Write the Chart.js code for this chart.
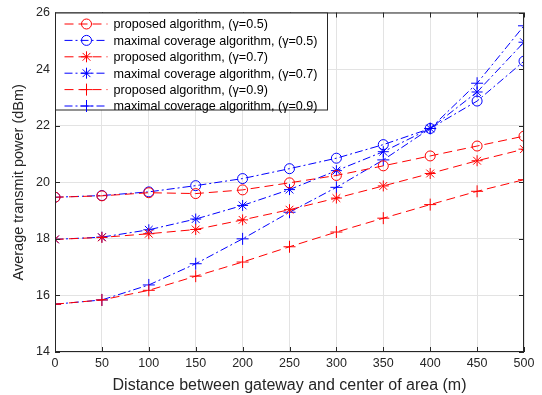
<!DOCTYPE html>
<html>
<head>
<meta charset="utf-8">
<script src="https://cdn.jsdelivr.net/npm/chart.js@4.4.1/dist/chart.umd.min.js"></script>
<style>
  body { margin: 0; background: #fff; }
  #wrap { width: 542px; height: 395px; }
</style>
</head>
<body>
<div id="wrap"><canvas id="power-plot"></canvas></div>
<script>
var distances = [0, 50, 100, 150, 200, 250, 300, 350, 400, 450, 500];
var yTicks = [14, 16, 18, 20, 22, 24, 26];

var proposed05 = [19.47, 19.52, 19.63, 19.6, 19.73, 19.98, 20.24, 20.58, 20.93, 21.28, 21.63];
var maximal05  = [19.47, 19.53, 19.66, 19.88, 20.13, 20.48, 20.85, 21.33, 21.9, 22.87, 24.28];
var proposed07 = [17.98, 18.05, 18.18, 18.33, 18.67, 19.03, 19.44, 19.87, 20.31, 20.76, 21.17];
var maximal07  = [17.98, 18.06, 18.32, 18.7, 19.18, 19.74, 20.41, 21.08, 21.9, 23.19, 24.95];
var proposed09 = [15.69, 15.84, 16.18, 16.68, 17.18, 17.72, 18.24, 18.73, 19.21, 19.68, 20.09];
var maximal09  = [15.69, 15.84, 16.37, 17.12, 18.0, 18.94, 19.82, 20.79, 21.9, 23.5, 25.53];

var red = "#ff0000";
var blue = "#0000ff";
var dashRed = [9, 5];
var dashBlue = [8, 3, 2, 3];
var fontFam = "'Liberation Sans', Arial, sans-serif";

function makeSet(label, data, color, dash, marker, size) {
  return {
    label: label,
    data: data.map(function (v, i) { return { x: distances[i], y: v }; }),
    borderColor: color,
    backgroundColor: "rgba(0,0,0,0)",
    borderWidth: 1,
    borderDash: dash,
    pointStyle: marker,
    pointRadius: size,
    pointBorderColor: color,
    pointBorderWidth: 1,
    pointBackgroundColor: "rgba(0,0,0,0)",
    tension: 0
  };
}

// box round the plot, ticks pointing inward on all four sides, legend inside
var matlabFrame = {
  id: "matlabFrame",
  afterDatasetsDraw: function (chart) {
    var ctx = chart.ctx, a = chart.chartArea;
    var xs = chart.scales.x, ys = chart.scales.y;
    ctx.save();
    ctx.strokeStyle = "#262626";
    ctx.lineWidth = 1;
    ctx.strokeRect(a.left + 0.5, a.top + 0.5, a.right - a.left - 1, a.bottom - a.top - 1);
    ctx.beginPath();
    distances.forEach(function (d) {
      var px = Math.round(xs.getPixelForValue(d)) + 0.5;
      ctx.moveTo(px, a.bottom); ctx.lineTo(px, a.bottom - 5);
      ctx.moveTo(px, a.top); ctx.lineTo(px, a.top + 5);
    });
    yTicks.forEach(function (t) {
      var py = Math.round(ys.getPixelForValue(t)) + 0.5;
      ctx.moveTo(a.left, py); ctx.lineTo(a.left + 5, py);
      ctx.moveTo(a.right, py); ctx.lineTo(a.right - 5, py);
    });
    ctx.stroke();

    // legend
    var bx = a.left + 0.5, by = a.top + 0.5, bw = 272, bh = 97;
    ctx.fillStyle = "#fff";
    ctx.fillRect(bx, by, bw, bh);
    ctx.strokeRect(bx, by, bw, bh);
    ctx.font = "12.6px " + fontFam;
    ctx.textBaseline = "middle";
    chart.data.datasets.forEach(function (ds, i) {
      var y = by + 11 + i * 16.4;
      ctx.strokeStyle = ds.borderColor;
      ctx.setLineDash(ds.borderDash);
      ctx.beginPath();
      ctx.moveTo(bx + 9, y); ctx.lineTo(bx + 52, y);
      ctx.stroke();
      ctx.setLineDash([]);
      ctx.fillStyle = "rgba(0,0,0,0)";
      Chart.helpers.drawPoint(ctx, {
        pointStyle: ds.pointStyle, radius: ds.pointRadius, rotation: 0, borderWidth: 1
      }, bx + 31, y);
      ctx.fillStyle = "#000";
      ctx.fillText(ds.label, bx + 58, y + 1);
    });
    ctx.restore();
  }
};

new Chart("power-plot", {
  type: "line",
  data: {
    datasets: [
      makeSet("proposed algorithm, (\u03b3=0.5)", proposed05, red, dashRed, "circle", 5),
      makeSet("maximal coverage algorithm, (\u03b3=0.5)", maximal05, blue, dashBlue, "circle", 5),
      makeSet("proposed algorithm, (\u03b3=0.7)", proposed07, red, dashRed, "star", 5.5),
      makeSet("maximal coverage algorithm, (\u03b3=0.7)", maximal07, blue, dashBlue, "star", 5.5),
      makeSet("proposed algorithm, (\u03b3=0.9)", proposed09, red, dashRed, "cross", 6),
      makeSet("maximal coverage algorithm, (\u03b3=0.9)", maximal09, blue, dashBlue, "cross", 6)
    ]
  },
  options: {
    responsive: true,
    maintainAspectRatio: false,
    animation: false,
    layout: { padding: { left: 10, right: 18, top: 10, bottom: 0 } },
    plugins: {
      legend: { display: false },
      tooltip: { enabled: false }
    },
    scales: {
      x: {
        type: "linear",
        min: 0,
        max: 500,
        afterBuildTicks: function (s) { s.ticks = distances.map(function (v) { return { value: v }; }); },
        afterFit: function (s) { s.height = 43; },
        grid: { color: "#e3e3e3", drawTicks: false },
        border: { display: false },
        ticks: {
          padding: 4,
          color: "#262626",
          font: { family: fontFam, size: 12.5 }
        },
        title: {
          display: true,
          text: "Distance between gateway and center of area (m)",
          color: "#262626",
          padding: { top: 1, bottom: 0 },
          font: { family: fontFam, size: 16 }
        }
      },
      y: {
        min: 14,
        max: 26,
        afterBuildTicks: function (s) { s.ticks = yTicks.map(function (v) { return { value: v }; }); },
        afterFit: function (s) { s.width = 45; },
        grid: { color: "#e3e3e3", drawTicks: false },
        border: { display: false },
        ticks: {
          padding: 5,
          color: "#262626",
          font: { family: fontFam, size: 12.5 }
        },
        title: {
          display: true,
          text: "Average transmit power (dBm)",
          color: "#262626",
          padding: { top: 0, bottom: 2 },
          font: { family: fontFam, size: 14.5 }
        }
      }
    }
  },
  plugins: [matlabFrame]
});
</script>
</body>
</html>
